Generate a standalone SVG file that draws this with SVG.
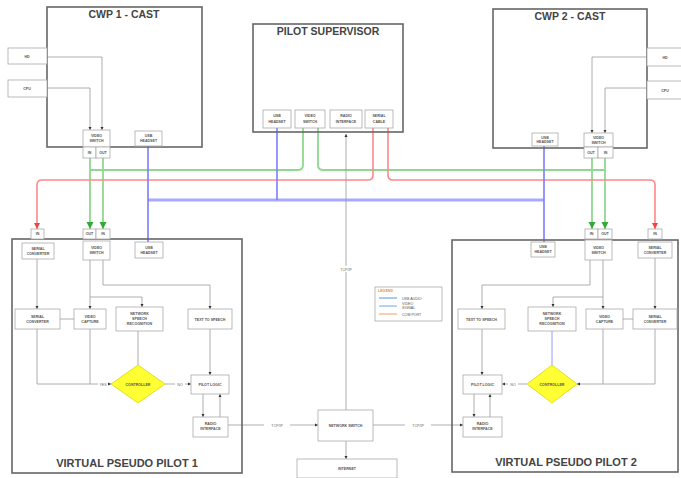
<svg xmlns="http://www.w3.org/2000/svg" width="681" height="478" viewBox="0 0 681 478">
<defs>
<style>
.big{fill:none;stroke:#666;stroke-width:1.6}
.sm{fill:#fff;stroke:#aaa;stroke-width:0.8}
.t{font-family:"Liberation Sans",Arial,sans-serif;font-weight:bold;fill:#444;text-anchor:middle}
.title{font-size:10.5px}
.s{font-size:3.6px;fill:#555;font-weight:bold}
.ln{fill:none;stroke:#999;stroke-width:0.8}
.g{fill:none;stroke:#8fd88f;stroke-width:1.8}
.r{fill:none;stroke:#ff8888;stroke-width:1.6}
.b{fill:none;stroke:#7c7cff;stroke-width:1.6}
.bb{fill:none;stroke:#a8a8ff;stroke-width:3}
.lb{font-family:"Liberation Sans",Arial,sans-serif;font-size:3.6px;fill:#666;text-anchor:middle}
</style>
<marker id="a" viewBox="0 0 6 6" refX="6" refY="3" markerWidth="4" markerHeight="4" orient="auto"><path d="M0,0 L6,3 L0,6 z" fill="#333"/></marker>
<marker id="ag" viewBox="0 0 6 6" refX="6" refY="3" markerWidth="4" markerHeight="4" orient="auto"><path d="M0,0 L6,3 L0,6 z" fill="#3a3"/></marker>
<marker id="ar" viewBox="0 0 6 6" refX="6" refY="3" markerWidth="4" markerHeight="4" orient="auto"><path d="M0,0 L6,3 L0,6 z" fill="#e44"/></marker>
</defs>
<rect width="681" height="478" fill="#fff"/>

<g id="connectors">
<path class="ln" d="M47 57 H102 V130" marker-end="url(#a)"/>
<path class="ln" d="M47 88 H90 V130" marker-end="url(#a)"/>
<path class="ln" d="M647 57 H592 V133" marker-end="url(#a)"/>
<path class="ln" d="M647 88 H605 V133" marker-end="url(#a)"/>
<path class="g" d="M90 158 V229" marker-end="url(#ag)"/>
<path class="g" d="M103 158 V229" marker-end="url(#ag)"/>
<path class="g" d="M90 170 H298 Q303 170 303 165 V128"/>
<path class="g" d="M318 128 V165 Q318 170 323 170 H605"/>
<path class="g" d="M592 158 V229" marker-end="url(#ag)"/>
<path class="g" d="M605 158 V229" marker-end="url(#ag)"/>
<path class="r" d="M373 128 V175 Q373 180 368 180 H42 Q37 180 37 185 V229" marker-end="url(#ar)"/>
<path class="r" d="M388 128 V175 Q388 180 393 180 H650 Q655 180 655 185 V229" marker-end="url(#ar)"/>
<path class="bb" d="M148 200 H544"/>
<path class="b" d="M148 146 V242"/>
<path class="b" d="M277 128 V200"/>
<path class="b" d="M544 146 V242"/>
<path class="ln" d="M346 410 V134" marker-end="url(#a)" marker-start="url(#a)"/>
<rect x="333" y="266" width="26" height="6" fill="#fff"/>
<text class="lb" x="346" y="270.5">TCP/IP</text>
<path class="ln" d="M346 441 V459" marker-end="url(#a)"/>
<path class="ln" d="M228 425 H318" marker-end="url(#a)" marker-start="url(#a)"/>
<rect x="264" y="422" width="26" height="6" fill="#fff"/>
<text class="lb" x="277" y="426.5">TCP/IP</text>
<path class="ln" d="M373 425 H463" marker-end="url(#a)" marker-start="url(#a)"/>
<rect x="405" y="422" width="26" height="6" fill="#fff"/>
<text class="lb" x="418" y="426.5">TCP/IP</text>
<path class="ln" d="M37 259 V309" marker-end="url(#a)"/>
<path class="ln" d="M90 260 V309" marker-end="url(#a)"/>
<path class="ln" d="M90 297 H142 V307" marker-end="url(#a)"/>
<path class="ln" d="M103 260 V285 H210 V309" marker-end="url(#a)"/>
<path class="ln" d="M60 319 H74"/>
<path class="ln" d="M138 331 V365"/>
<path class="ln" d="M37 329 V384 H111" marker-end="url(#a)"/>
<path class="ln" d="M90 329 V384"/>
<path class="ln" d="M165 384 H191" marker-end="url(#a)"/>
<path class="ln" d="M210 329 V375" marker-end="url(#a)"/>
<path class="ln" d="M203 394 V417" marker-end="url(#a)"/>
<path class="ln" d="M220 417 V394" marker-end="url(#a)"/>
<rect x="98" y="381" width="10" height="6" fill="#fff"/>
<text class="lb" x="103" y="385.5">YES</text>
<rect x="175" y="381" width="10" height="6" fill="#fff"/>
<text class="lb" x="180" y="385.5">NO</text>
<path class="ln" d="M655 258 V309" marker-end="url(#a)"/>
<path class="ln" d="M603 260 V309" marker-end="url(#a)"/>
<path class="ln" d="M603 297 H553 V307" marker-end="url(#a)"/>
<path class="ln" d="M590 260 V285 H482 V309" marker-end="url(#a)"/>
<path class="ln" d="M623 319 H633"/>
<path d="M552 331 V365" fill="none" stroke="#8080ff" stroke-width="0.8"/>
<path class="ln" d="M655 329 V384 H577" marker-end="url(#a)"/>
<path class="ln" d="M603 329 V384"/>
<path class="ln" d="M527 384 H502" marker-end="url(#a)"/>
<path class="ln" d="M482 329 V375" marker-end="url(#a)"/>
<path class="ln" d="M474 394 V417" marker-end="url(#a)"/>
<path class="ln" d="M490 417 V394" marker-end="url(#a)"/>
<rect x="508" y="381" width="10" height="6" fill="#fff"/>
<text class="lb" x="513" y="385.5">NO</text>
</g>

<g id="cwp1">
<rect class="big" x="47" y="7" width="155" height="140"/>
<text class="t title" x="124" y="18">CWP 1 - CAST</text>
</g>
<g id="cwp1-hd"><rect class="sm" x="8" y="48" width="39" height="16"/><text class="t s" x="27" y="57.5">HD</text></g>
<g id="cwp1-cpu"><rect class="sm" x="8" y="80" width="39" height="17"/><text class="t s" x="27" y="89.5">CPU</text></g>
<g id="cwp1-switch"><rect class="sm" x="83" y="130" width="27" height="17"/><text class="t s" x="96.5" y="137">VIDEO</text><text class="t s" x="96.5" y="142">SWITCH</text></g>
<g id="cwp1-p1"><rect class="sm" x="83" y="147" width="13" height="11"/><text class="t s" x="89.5" y="153.5">IN</text></g>
<g id="cwp1-p2"><rect class="sm" x="96" y="147" width="14" height="11"/><text class="t s" x="103" y="153.5">OUT</text></g>
<g id="cwp1-usb"><rect class="sm" x="135" y="131" width="27" height="15"/><text class="t s" x="148.5" y="137">USB</text><text class="t s" x="148.5" y="142">HEADSET</text></g>

<g id="supervisor">
<rect class="big" x="253" y="24" width="150" height="108"/>
<text class="t title" x="328" y="35">PILOT SUPERVISOR</text>
</g>
<g id="sup-usb"><rect class="sm" x="263" y="110" width="28" height="18"/><text class="t s" x="277" y="117">USB</text><text class="t s" x="277" y="123">HEADSET</text></g>
<g id="sup-video"><rect class="sm" x="295" y="110" width="30" height="18"/><text class="t s" x="310" y="117">VIDEO</text><text class="t s" x="310" y="123">SWITCH</text></g>
<g id="sup-radio"><rect class="sm" x="330" y="110" width="32" height="18"/><text class="t s" x="346" y="117">RADIO</text><text class="t s" x="346" y="123">INTERFACE</text></g>
<g id="sup-serial"><rect class="sm" x="365" y="110" width="28" height="18"/><text class="t s" x="379" y="117">SERIAL</text><text class="t s" x="379" y="123">CABLE</text></g>

<g id="cwp2">
<rect class="big" x="493" y="9" width="154" height="139"/>
<text class="t title" x="570" y="20">CWP 2 - CAST</text>
</g>
<g id="cwp2-hd"><rect class="sm" x="647" y="48" width="36" height="18"/><text class="t s" x="665" y="58.5">HD</text></g>
<g id="cwp2-cpu"><rect class="sm" x="647" y="81" width="36" height="18"/><text class="t s" x="665" y="91.5">CPU</text></g>
<g id="cwp2-usb"><rect class="sm" x="532" y="133" width="26" height="13"/><text class="t s" x="545" y="138.5">USB</text><text class="t s" x="545" y="143">HEADSET</text></g>
<g id="cwp2-switch"><rect class="sm" x="584" y="133" width="29" height="14"/><text class="t s" x="598.5" y="138.5">VIDEO</text><text class="t s" x="598.5" y="143.5">SWITCH</text></g>
<g id="cwp2-p1"><rect class="sm" x="584" y="147" width="14" height="11"/><text class="t s" x="591" y="153.5">OUT</text></g>
<g id="cwp2-p2"><rect class="sm" x="598" y="147" width="15" height="11"/><text class="t s" x="605.5" y="153.5">IN</text></g>

<g id="pp1">
<rect class="big" x="12" y="239" width="230" height="234"/>
<text class="t" x="127" y="467" font-size="11px">VIRTUAL PSEUDO PILOT 1</text>
</g>
<g id="pp1-redport"><rect class="sm" x="31" y="229" width="13" height="10"/><text class="t s" x="37.5" y="235">IN</text></g>
<g id="pp1-serial"><rect class="sm" x="22" y="243" width="32" height="16"/><text class="t s" x="38" y="249.5">SERIAL</text><text class="t s" x="38" y="254.5">CONVERTER</text></g>
<g id="pp1-p1"><rect class="sm" x="83" y="229" width="13" height="10"/><text class="t s" x="89.5" y="235">OUT</text></g>
<g id="pp1-p2"><rect class="sm" x="96" y="229" width="14" height="10"/><text class="t s" x="103" y="235">IN</text></g>
<g id="pp1-switch"><rect class="sm" x="83" y="241" width="27" height="19"/><text class="t s" x="96.5" y="249">VIDEO</text><text class="t s" x="96.5" y="254">SWITCH</text></g>
<g id="pp1-usb"><rect class="sm" x="135" y="242" width="28" height="16"/><text class="t s" x="149" y="248.5">USB</text><text class="t s" x="149" y="253.5">HEADSET</text></g>
<g id="pp1-b1"><rect class="sm" x="15" y="309" width="45" height="20"/><text class="t s" x="37.5" y="318">SERIAL</text><text class="t s" x="37.5" y="323">CONVERTER</text></g>
<g id="pp1-b2"><rect class="sm" x="74" y="309" width="32" height="20"/><text class="t s" x="90" y="318">VIDEO</text><text class="t s" x="90" y="323">CAPTURE</text></g>
<g id="pp1-b3"><rect class="sm" x="116" y="307" width="47" height="24"/><text class="t s" x="139.5" y="315">NETWORK</text><text class="t s" x="139.5" y="320">SPEECH</text><text class="t s" x="139.5" y="325">RECOGNITION</text></g>
<g id="pp1-b4"><rect class="sm" x="188" y="309" width="44" height="20"/><text class="t s" x="210" y="320.5">TEXT TO SPEECH</text></g>
<g id="pp1-diamond"><polygon points="111,384 138,365 165,384 138,403" fill="#ffff33" stroke="#d8d800" stroke-width="0.8"/><text class="t s" x="138" y="385.5">CONTROLLER</text></g>
<g id="pp1-logic"><rect class="sm" x="191" y="375" width="38" height="19"/><text class="t s" x="210" y="385.5">PILOT LOGIC</text></g>
<g id="pp1-radio"><rect class="sm" x="193" y="417" width="35" height="20"/><text class="t s" x="210.5" y="425">RADIO</text><text class="t s" x="210.5" y="430">INTERFACE</text></g>

<g id="network">
<rect class="sm" x="318" y="410" width="55" height="31"/>
<text class="t s" x="345.5" y="426.5">NETWORK SWITCH</text>
</g>
<g id="internet">
<rect class="sm" x="297" y="459" width="100" height="19"/>
<text class="t s" x="347" y="470">INTERNET</text>
</g>

<g id="legend">
<rect x="375" y="287" width="67" height="34" fill="#fff" stroke="#aaa" stroke-width="0.8"/>
<text x="378" y="292" font-family="Liberation Sans, sans-serif" font-size="3.6px" fill="#e09050" font-weight="bold">LEGEND</text>
<line x1="379" y1="298" x2="397" y2="298" stroke="#5a8fe0" stroke-width="1"/>
<line x1="379" y1="306" x2="397" y2="306" stroke="#6aa8e8" stroke-width="1"/>
<line x1="379" y1="314" x2="397" y2="314" stroke="#f0a060" stroke-width="1"/>
<text x="402" y="299.5" font-family="Liberation Sans, sans-serif" font-size="3.6px" fill="#555">USB AUDIO</text>
<text x="402" y="305" font-family="Liberation Sans, sans-serif" font-size="3.6px" fill="#555">VIDEO</text>
<text x="402" y="309" font-family="Liberation Sans, sans-serif" font-size="3.6px" fill="#555">SIGNAL</text>
<text x="402" y="315.5" font-family="Liberation Sans, sans-serif" font-size="3.6px" fill="#555">COM PORT</text>
</g>

<g id="pp2">
<rect class="big" x="452" y="240" width="226" height="232"/>
<text class="t" x="566" y="466" font-size="11px">VIRTUAL PSEUDO PILOT 2</text>
</g>
<g id="pp2-usb"><rect class="sm" x="531" y="242" width="24" height="15"/><text class="t s" x="543" y="248">USB</text><text class="t s" x="543" y="253">HEADSET</text></g>
<g id="pp2-p1"><rect class="sm" x="585" y="229" width="13" height="10"/><text class="t s" x="591.5" y="235">IN</text></g>
<g id="pp2-p2"><rect class="sm" x="598" y="229" width="14" height="10"/><text class="t s" x="605" y="235">OUT</text></g>
<g id="pp2-switch"><rect class="sm" x="585" y="240" width="27" height="20"/><text class="t s" x="598.5" y="248.5">VIDEO</text><text class="t s" x="598.5" y="253.5">SWITCH</text></g>
<g id="pp2-redport"><rect class="sm" x="648" y="229" width="14" height="10"/><text class="t s" x="655" y="235">IN</text></g>
<g id="pp2-serial"><rect class="sm" x="638" y="242" width="34" height="16"/><text class="t s" x="655" y="248.5">SERIAL</text><text class="t s" x="655" y="253.5">CONVERTER</text></g>
<g id="pp2-b1"><rect class="sm" x="458" y="309" width="47" height="20"/><text class="t s" x="481.5" y="320.5">TEXT TO SPEECH</text></g>
<g id="pp2-b2"><rect class="sm" x="528" y="307" width="48" height="24"/><text class="t s" x="552" y="315">NETWORK</text><text class="t s" x="552" y="320">SPEECH</text><text class="t s" x="552" y="325">RECOGNITION</text></g>
<g id="pp2-b3"><rect class="sm" x="586" y="309" width="37" height="20"/><text class="t s" x="604.5" y="318">VIDEO</text><text class="t s" x="604.5" y="323">CAPTURE</text></g>
<g id="pp2-b4"><rect class="sm" x="633" y="309" width="44" height="20"/><text class="t s" x="655" y="318">SERIAL</text><text class="t s" x="655" y="323">CONVERTER</text></g>
<g id="pp2-diamond"><polygon points="527,384 552,365 577,384 552,403" fill="#ffff33" stroke="#d8d800" stroke-width="0.8"/><text class="t s" x="552" y="385.5">CONTROLLER</text></g>
<g id="pp2-logic"><rect class="sm" x="463" y="375" width="39" height="19"/><text class="t s" x="482.5" y="385.5">PILOT LOGIC</text></g>
<g id="pp2-radio"><rect class="sm" x="463" y="417" width="39" height="20"/><text class="t s" x="482.5" y="425">RADIO</text><text class="t s" x="482.5" y="430">INTERFACE</text></g>
</svg>
